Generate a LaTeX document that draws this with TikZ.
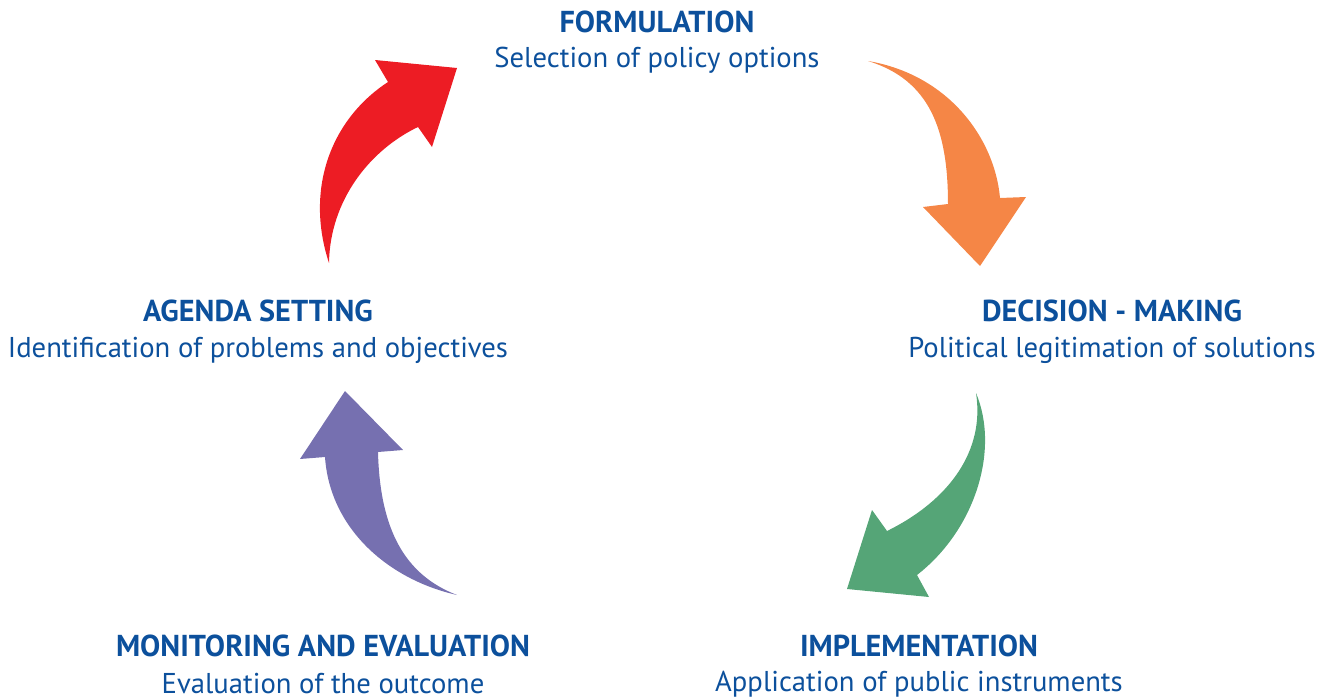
\documentclass[tikz,border=0pt]{standalone}
\usepackage{fontspec}
\setmainfont{PT Sans}
\definecolor{stageblue}{RGB}{12,80,156}
\definecolor{arrred}{RGB}{237,28,36}
\definecolor{arrorange}{RGB}{245,134,70}
\definecolor{arrgreen}{RGB}{85,165,119}
\definecolor{arrpurple}{RGB}{118,112,176}
\tikzset{
  head/.style={text=stageblue,font=\fontsize{8.6}{10}\selectfont\bfseries,inner sep=0pt},
  sub/.style={text=stageblue,font=\fontsize{8.15}{10}\selectfont,inner sep=0pt}
}
\begin{document}
\begin{tikzpicture}[x=0.01cm,y=-0.01cm]
     \useasboundingbox (0,0) rectangle (1326,700);
     % arrows
     \fill[arrred] (329,263) .. controls (305,190) and (330,120) .. (388,82)
        -- (375,60) -- (457,68) -- (432,147) -- (418,127)
        .. controls (370,150) and (330,200) .. (329,263) -- cycle;
     \fill[arrorange] (868,61) .. controls (950,75) and (995,140) .. (1000,198)
        -- (1026,197) -- (980,266) -- (923,207) -- (948,204)
        .. controls (948,130) and (930,80) .. (868,61) -- cycle;
     \fill[arrgreen] (976,393) .. controls (1000,450) and (975,530) .. (917,575)
        -- (929,597) -- (847,589) -- (872,510) -- (887,531)
        .. controls (950,500) and (985,450) .. (976,393) -- cycle;
     \fill[arrpurple] (457,595) .. controls (390,580) and (330,530) .. (325,457)
        -- (300,459) -- (345,391) -- (403,450) -- (378,452)
        .. controls (380,530) and (405,575) .. (457,595) -- cycle;
     % stages
     \node[head] (form)  at (657,22)  {FORMULATION};
     \node[sub]  (forms) at (657,60)  {Selection of policy options};
     \node[head] (dec)   at (1112,311) {DECISION - MAKING};
     \node[sub]  (decs)  at (1112,350) {Political legitimation of solutions};
     \node[head] (impl)  at (919,646) {IMPLEMENTATION};
     \node[sub]  (impls) at (919,684) {Application of public instruments};
     \node[head] (mon)   at (323,646) {MONITORING AND EVALUATION};
     \node[sub]  (mons)  at (323,684) {Evaluation of the outcome};
     \node[head] (agen)  at (258,311) {AGENDA SETTING};
     \node[sub]  (agens) at (258,350) {Identification of problems and objectives};
\end{tikzpicture}
\end{document}
